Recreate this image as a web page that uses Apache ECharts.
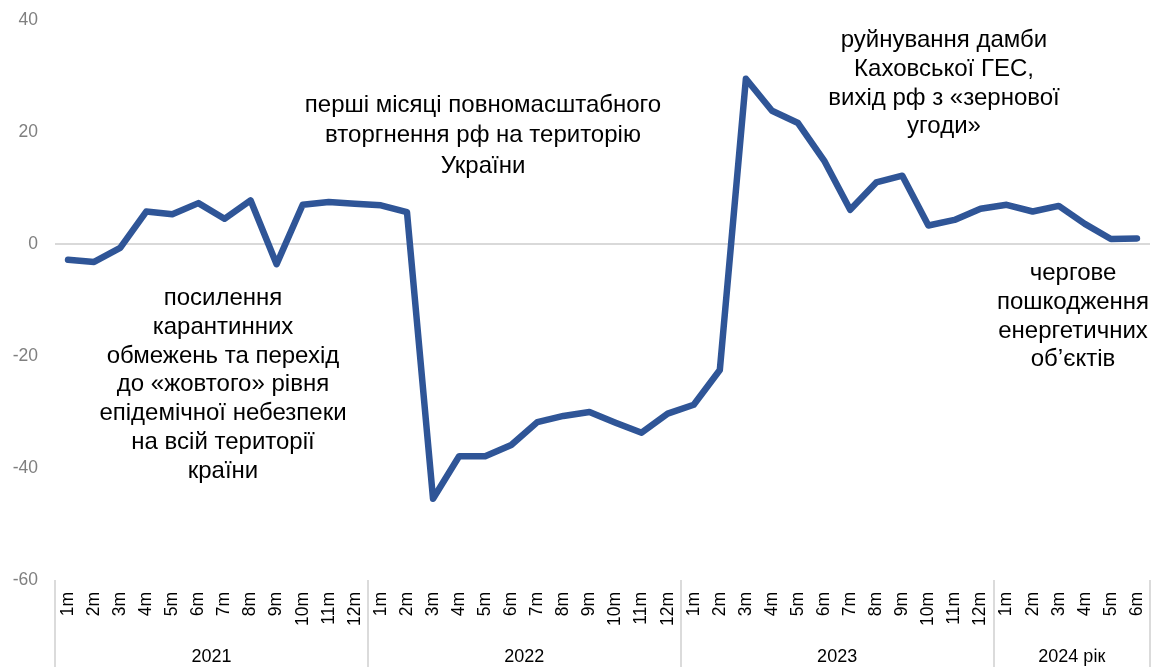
<!DOCTYPE html>
<html><head><meta charset="utf-8">
<script src="https://cdn.jsdelivr.net/npm/echarts@6/dist/echarts.min.js"></script>
<style>html,body{margin:0;padding:0;background:#fff}#c{width:1153px;height:667px}</style>
</head><body><div id="c"></div>
<script>
const months = ['1m','2m','3m','4m','5m','6m','7m','8m','9m','10m','11m','12m',
  '1m','2m','3m','4m','5m','6m','7m','8m','9m','10m','11m','12m',
  '1m','2m','3m','4m','5m','6m','7m','8m','9m','10m','11m','12m',
  '1m','2m','3m','4m','5m','6m'];
const values = [-2.8,-3.2,-0.7,5.8,5.3,7.3,4.5,7.8,-3.6,7.0,7.5,7.2,
  6.9,5.7,-45.5,-37.9,-37.9,-35.9,-31.8,-30.7,-30.0,-31.9,-33.7,-30.3,
  -28.7,-22.5,29.5,23.8,21.6,14.9,6.1,11.0,12.2,3.3,4.3,6.3,
  7.0,5.8,6.8,3.6,0.9,1.0];
const yearLabels = ['2021','2022','2023','2024 рік'];
const yearStarts = [0,12,24,36,42];
const yTicks = [-60,-40,-20,0,20,40];
const notes = [
  'перші місяці повномасштабного\nвторгнення рф на територію\nУкраїни',
  'посилення\nкарантинних\nобмежень та перехід\nдо «жовтого» рівня\nепідемічної небезпеки\nна всій території\nкраїни',
  'руйнування дамби\nКаховської ГЕС,\nвихід рф з «зернової\nугоди»',
  'чергове\nпошкодження\nенергетичних\nоб’єктів'
];

const FONT = '"Liberation Sans", Arial, sans-serif';
const yearMid = yearLabels.map((_, i) => (yearStarts[i] + yearStarts[i+1]) / 2);
const chart = echarts.init(document.getElementById('c'));
function note(text, x, y, lh) {
  return { type: 'text', x: x, y: y, silent: true,
    style: { text: text, x: 0, y: 0, align: 'center', verticalAlign: 'top',
      fontSize: 24, fontFamily: FONT, fill: '#000', lineHeight: lh } };
}
chart.setOption({
  animation: false,
  grid: { left: 55, right: 3, top: 20, bottom: 87 },
  xAxis: [{
    type: 'category', data: months, boundaryGap: true,
    axisLine: { show: false }, axisTick: { show: false },
    axisLabel: { rotate: 90, interval: 0, fontSize: 17.5, color: '#000', fontFamily: FONT, margin: 12 }
  }, {
    type: 'value', min: 0, max: 42, position: 'bottom',
    axisLine: { show: false }, splitLine: { show: false },
    axisTick: { show: true, customValues: yearStarts, length: 90, lineStyle: { color: '#d0d0d0', width: 1.5 } },
    axisLabel: { customValues: yearMid, fontSize: 18, color: '#000', fontFamily: FONT, margin: 68,
      formatter: v => yearLabels[yearMid.indexOf(v)] }
  }],
  yAxis: {
    type: 'value', min: yTicks[0], max: yTicks[yTicks.length - 1], interval: 20,
    axisLine: { show: false }, axisTick: { show: false }, splitLine: { show: false },
    axisLabel: { fontSize: 17.5, color: '#7f7f7f', fontFamily: FONT, margin: 17 }
  },
  series: [{
    type: 'line', data: values, xAxisIndex: 0, symbol: 'none',
    lineStyle: { color: '#2F5597', width: 6.5, cap: 'round', join: 'round' },
    z: 3,
    markLine: { silent: true, symbol: 'none', label: { show: false },
      lineStyle: { color: '#d9d9d9', width: 2, type: 'solid' }, data: [{ yAxis: 0 }], z: 1 }
  }],
  graphic: [
    note(notes[0], 483, 90, 30.5),
    note(notes[1], 223, 284, 28.8),
    note(notes[2], 944, 26, 28.8),
    note(notes[3], 1073, 259, 28.8)
  ]
});
</script></body></html>
